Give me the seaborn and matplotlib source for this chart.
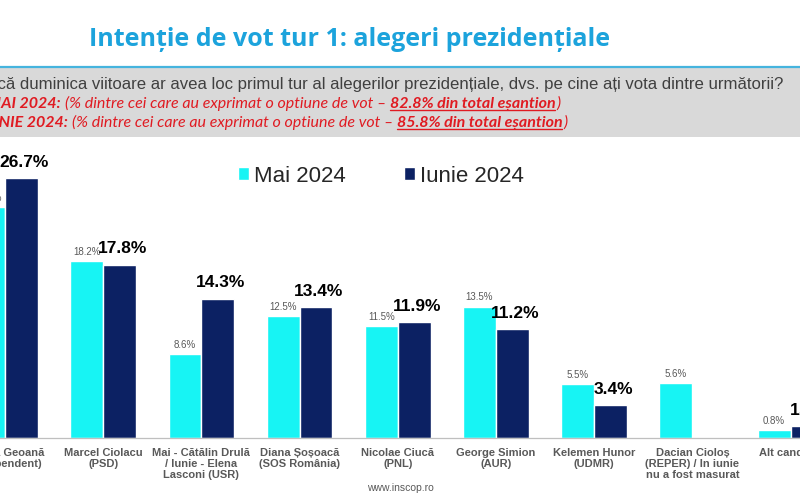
import matplotlib
matplotlib.use("Agg")
import matplotlib.pyplot as plt
import matplotlib.transforms as mtransforms
from matplotlib.lines import Line2D
from matplotlib.patches import Rectangle
import seaborn as sns
import pandas as pd
import numpy as np

# ---------------- data ----------------
categories = [
    "Mircea Geoană\n(Independent)",
    "Marcel Ciolacu\n(PSD)",
    "Mai - Cătălin Drulă\n/ Iunie - Elena\nLasconi (USR)",
    "Diana Șoșoacă\n(SOS România)",
    "Nicolae Ciucă\n(PNL)",
    "George Simion\n(AUR)",
    "Kelemen Hunor\n(UDMR)",
    "Dacian Cioloș\n(REPER) / In iunie\nnu a fost masurat",
    "Alt candidat",
]
mai_2024 = [23.7, 18.2, 8.6, 12.5, 11.5, 13.5, 5.5, 5.6, 0.8]
iunie_2024 = [26.7, 17.8, 14.3, 13.4, 11.9, 11.2, 3.4, np.nan, 1.2]
series_names = ["Mai 2024", "Iunie 2024"]

title_text = "Intenție de vot tur 1: alegeri prezidențiale"
question_text = ("Dacă duminica viitoare ar avea loc primul tur al alegerilor "
                 "prezidențiale, dvs. pe cine ați vota dintre următorii?")
note_lines = [
    ("MAI 2024:", "(% dintre cei care au exprimat o optiune de vot –", "82.8% din total eșantion"),
    ("IUNIE 2024:", "(% dintre cei care au exprimat o optiune de vot –", "85.8% din total eșantion"),
]
footer_text = "www.inscop.ro"

# ---------------- style ----------------
sns.set_style("white")
plt.rcParams['font.family'] = ['Liberation Sans', 'DejaVu Sans']

CYAN = "#17f4f4"
NAVY = "#0c2163"
GRAY_TXT = "#595959"
RED = "#e01b22"
TITLE_BLUE = "#1ca3dc"

W, H = 800, 500
fig = plt.figure(figsize=(8, 5), dpi=100)
pix = mtransforms.IdentityTransform()

df = pd.DataFrame({
    "candidat": categories * 2,
    "serie": [series_names[0]] * len(categories) + [series_names[1]] * len(categories),
    "valoare": mai_2024 + iunie_2024,
})

ax = fig.add_axes([0, (H - 438) / H, 1, 288 / H])
sns.barplot(data=df, x="candidat", y="valoare", hue="serie", order=categories,
            hue_order=series_names, palette={series_names[0]: CYAN, series_names[1]: NAVY},
            width=0.67, errorbar=None, saturation=1, ax=ax)

ax.set_xlabel("")
ax.set_ylabel("")
ax.set_yticks([])
for s in ["top", "left", "right"]:
    ax.spines[s].set_visible(False)
ax.spines["bottom"].set_color("#bfbfbf")
ax.spines["bottom"].set_linewidth(0.9)

ax.set_xticks(range(len(categories)))
ax.set_xticklabels(categories, fontsize=8, fontweight="bold", color=GRAY_TXT, linespacing=1.15)
ax.tick_params(axis="x", which="major", length=0, pad=7)
ax.set_xticks(np.arange(-0.5, len(categories)), minor=True)
ax.tick_params(axis="x", which="minor", length=5, color="#bfbfbf", width=0.9, direction="out")
# limits after ticks (set_xticks can expand the view)
ax.set_ylim(0, 288 / 9.74)
ax.set_xlim(-0.051, 8.096)

# value labels
for bar in ax.containers[0]:
    h = bar.get_height()
    if np.isfinite(h):
        ax.annotate(f"{h:.1f}%", (bar.get_x() + bar.get_width() / 2, h),
                    xytext=(0, 3), textcoords="offset points", ha="center", va="bottom",
                    fontsize=7, color=GRAY_TXT, annotation_clip=False)
for bar in ax.containers[1]:
    h = bar.get_height()
    if np.isfinite(h) and h > 0:
        ax.annotate(f"{h:.1f}%", (bar.get_x() + bar.get_width() / 2 + 0.03, h),
                    xytext=(0, 6), textcoords="offset points", ha="center", va="bottom",
                    fontsize=12.5, fontweight="bold", color="black", annotation_clip=False)

# legend
handles, labels = ax.get_legend_handles_labels()
if ax.get_legend() is not None:
    ax.get_legend().remove()
fig.legend(handles, labels, loc="center", bbox_to_anchor=(381 / W, 1 - 176 / H),
           ncol=2, frameon=False, fontsize=16, handlelength=0.5, handleheight=0.5,
           handletextpad=0.25, columnspacing=2.6, labelcolor="#262626")

# ---------------- header ----------------
fig.text(350 / W, 1 - 40 / H, title_text, ha="center", va="center", fontsize=18,
         fontweight="bold", color=TITLE_BLUE, family=["Open Sans", "DejaVu Sans"])
fig.add_artist(Line2D([0, 1], [1 - 66.5 / H] * 2, transform=fig.transFigure,
                      color="#45b4de", lw=1.6))
fig.add_artist(Rectangle((0, 1 - 137 / H), 1, 69 / H, transform=fig.transFigure,
                         facecolor="#d9d9d9", edgecolor="none", zorder=0))
fig.text(783, H - 85, question_text, transform=pix, ha="right", va="center",
         fontsize=12.1, color="#404040")

fig.canvas.draw()
renderer = fig.canvas.get_renderer()
note_font = dict(fontsize=11.5, style="italic", color=RED, family=["Lato", "DejaVu Sans"])


def width_of(s, weight):
    t = fig.text(0, 0, s, transform=pix, fontweight=weight, **note_font)
    w = t.get_window_extent(renderer).width
    t.remove()
    return w


space_w = width_of("a a", "normal") - width_of("aa", "normal")
for (lead, mid, bold), x_end, y_img in zip(note_lines, [560, 567], [104, 123]):
    pieces = [(lead, "bold", False, space_w), (mid, "normal", False, space_w),
              (bold, "bold", True, 0.5), (")", "normal", False, 0)]
    total = sum(width_of(p[0], p[1]) + p[3] for p in pieces)
    x = x_end - total
    yb = H - y_img - 4
    for s, wgt, ul, gap in pieces:
        t = fig.text(x, yb, s, transform=pix, ha="left", va="baseline", fontweight=wgt, **note_font)
        w = t.get_window_extent(renderer).width
        if ul:
            fig.add_artist(Line2D([x, x + w], [yb - 2, yb - 2], transform=pix, color=RED, lw=1.0))
        x += w + gap

fig.text(400 / W, 1 - 488 / H, footer_text, ha="center", va="center", fontsize=7.5, color=GRAY_TXT)

fig.savefig("out.png", dpi=100)
